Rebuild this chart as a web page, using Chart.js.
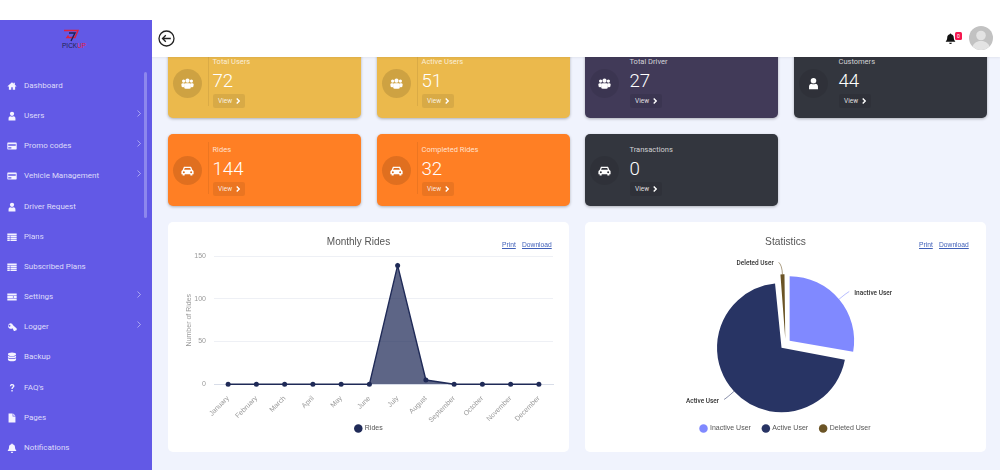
<!DOCTYPE html>
<html><head><meta charset="utf-8">
<script src="https://cdn.jsdelivr.net/npm/chart.js@4"></script>
<style>
html,body{margin:0;padding:0;width:1000px;height:470px;overflow:hidden;background:#f0f3fd;font-family:Roboto,sans-serif}
.abs{position:absolute}
#top{left:0;top:0;width:1000px;height:56.5px;background:#fff;box-shadow:0 1px 2px rgba(0,0,0,.06);z-index:3}
#side{left:0;top:20px;width:152px;height:450px;background:#6259e6;z-index:4}
#bar{left:144px;top:52px;width:3px;height:146px;border-radius:2px;background:rgba(255,255,255,.28)}
.nav{position:absolute;left:24px;font-size:8px;line-height:12px;color:#dedcfa;white-space:nowrap}
.ico{position:absolute;left:7px;width:10px;height:10px;fill:#f4f3ff}
.chev{position:absolute;left:137px;width:4px;height:7px;fill:none;stroke:rgba(255,255,255,.45);stroke-width:1}
.card{position:absolute;width:193px;border-radius:5px;box-shadow:0 1px 3px rgba(0,0,0,.28);overflow:hidden;height:72px}
.circ{position:absolute;left:4.5px;top:29px;width:29px;height:29px;border-radius:50%;background:rgba(0,0,0,.12)}
.circ svg{position:absolute;left:8px;top:8px;width:13px;height:13px;fill:#fff}
.div{position:absolute;left:39.5px;top:8px;width:1px;height:52px;background:rgba(0,0,0,.07)}
.ct{position:absolute;left:44.5px;top:10px;font-size:7.5px;line-height:12px;color:rgba(255,255,255,.78);white-space:nowrap}
.cn{position:absolute;left:44.5px;top:22px;font-size:18.7px;line-height:26px;color:#fff;font-weight:300}
.cb{position:absolute;left:44.5px;top:48px;width:32px;height:14px;border-radius:2px;background:rgba(0,0,0,.08);color:rgba(255,255,255,.85);font-size:6.5px;font-weight:400;line-height:14px;text-indent:5.5px}
.cb svg{position:absolute;left:23px;top:4px;width:4px;height:6px;fill:none;stroke:#fff;stroke-width:1.4}
.panel{position:absolute;top:222px;width:401px;height:230px;background:#fff;border-radius:5px}
.panel canvas{position:absolute;left:0;top:0}
.lk{position:absolute;top:18px;font:6.7px "Liberation Sans",sans-serif;line-height:9px;color:#3f5fb8;text-decoration:underline}
</style></head><body>
<svg width="0" height="0" style="position:absolute"><defs>
<symbol id="users" viewBox="0 0 16 16"><circle cx="3.2" cy="5" r="2"/><circle cx="12.8" cy="5" r="2"/><circle cx="8" cy="4.5" r="2.6"/><rect x="0.6" y="7.6" width="4" height="5" rx="1.4"/><rect x="11.4" y="7.6" width="4" height="5" rx="1.4"/><rect x="4" y="7.6" width="8" height="7" rx="1.8"/></symbol>
<symbol id="user" viewBox="0 0 16 16"><circle cx="8" cy="4.5" r="3.4"/><path d="M2.5 15v-3.2C2.5 9.5 4 8.5 5.5 8.3c1.5 1 3.5 1 5 0 1.500.2 3 1.200 3 3.500V15z"/></symbol>
<symbol id="car" viewBox="0 0 16 16"><path fill-rule="evenodd" d="M3.6 3.500h8.800L14 7.300c1 .4 1.500 1 1.500 2v3.200h-1.500v1.500h-2.500v-1.500h-7v1.500H2v-1.500H.5V9.300c0-1 .5-1.600 1.500-2zM4.700 5 3.800 7.200h8.400L11.300 5zM3.500 9a1.200 1.200 0 1 0 0 2.400 1.200 1.200 0 0 0 0-2.400zm9 0a1.200 1.200 0 1 0 0 2.400 1.200 1.200 0 0 0 0-2.400z"/></symbol>
<symbol id="home" viewBox="0 0 16 16"><path d="M8 2 .8 8.300l1 1L3 8.300V14h3.800v-4h2.400v4H13V8.300l1.200 1 1-1L12.500 6V2.800h-2v1.400z"/></symbol>
<symbol id="cardi" viewBox="0 0 16 16"><path fill-rule="evenodd" d="M1.500 2.500h13c.6 0 1 .4 1 1v9c0 .6-.4 1-1 1h-13c-.6 0-1-.4-1-1v-9c0-.6.4-1 1-1zM2 5v2.500h12V5zm0 5v2h5v-2z"/></symbol>
<symbol id="list" viewBox="0 0 16 16"><path d="M.5 2.500h15v2.500H.5zM.5 6h4v2.200h-4zm5 0h10v2.200h-10zM.5 9.200h4v2.200h-4zm5 0h10v2.200h-10zM.5 12.400h4v1.800h-4zm5 0h10v1.800h-10z"/></symbol>
<symbol id="sett" viewBox="0 0 16 16"><path d="M.5 2.500h15v3h-15zM.5 6.500h9v3h-9zm10 0h5v3h-5zM.5 10.500h15v3h-15z"/></symbol>
<symbol id="key" viewBox="0 0 16 16"><path fill-rule="evenodd" d="M5.500 2a4.500 4.500 0 0 1 4.200 3l5.800 5.500V13h-2v1.500h-2.500L9 10a4.500 4.500 0 1 1-3.500-8zM4 4.500a1.500 1.500 0 1 0 0 3 1.500 1.500 0 0 0 0-3z"/></symbol>
<symbol id="db" viewBox="0 0 16 16"><ellipse cx="8" cy="3.500" rx="6.500" ry="2.800"/><path d="M1.500 5.500c1.500 2.500 11.500 2.500 13 0v2.700c-1.500 2.500-11.500 2.500-13 0zM1.500 9.500c1.500 2.500 11.500 2.500 13 0v3c-1 3.200-12 3.200-13 0z"/></symbol>
<symbol id="file" viewBox="0 0 16 16"><path d="M2.500.8h6.500v4.700h4.500V15.200h-11zM10 .8l3.500 3.700H10z"/></symbol>
<symbol id="bell" viewBox="0 0 16 16"><path d="M8 .8c.7 0 1.100.5 1.100 1.100 2.500.5 3.700 2.500 3.700 5 0 3 1.200 4 2 5v1H1.200v-1c.8-1 2-2 2-5 0-2.500 1.200-4.500 3.700-5C6.900 1.300 7.300.8 8 .8zM6 14h4a2 2 0 0 1-4 0z"/></symbol>
<symbol id="faq" viewBox="0 0 16 16"><path d="M4.500 5c.3-2.300 1.800-3.300 3.700-3.300 2.200 0 3.700 1.300 3.700 3.100 0 2.600-2.800 2.600-2.800 4.900H7c0-3.100 2.500-3.200 2.500-4.800 0-.8-.6-1.200-1.400-1.200-.8 0-1.400.5-1.500 1.500zM7 11h2.100v2.500H7z"/></symbol>
</defs></svg>

<div id="top" class="abs">
<svg class="abs" style="left:158px;top:30px" width="17" height="17" viewBox="0 0 17 17" fill="none" stroke="#222" stroke-width="1.300"><circle cx="8.500" cy="8.500" r="7.500"/><path d="M12.800 8.500H4.500M7.800 5.200 4.500 8.500l3.300 3.300"/></svg>
<svg class="abs" style="left:945px;top:33px;fill:#111" width="11" height="11"><use href="#bell"/></svg>
<div class="abs" style="left:955px;top:32px;width:7px;height:8px;border-radius:1.500px;background:#f5184f;color:#fff;font-size:5px;line-height:8px;text-align:center">0</div>
<svg class="abs" style="left:969px;top:26px" width="24" height="24" viewBox="0 0 24 24"><circle cx="12" cy="12" r="12" fill="#c2c2c2"/><circle cx="12" cy="9.500" r="4.800" fill="#e3e3e3"/><path d="M3.500 20.500c1.500-4 5-5.500 8.500-5.500s7 1.500 8.500 5.500A12 12 0 0 1 3.500 20.500z" fill="#e3e3e3"/></svg>
</div>

<div id="side" class="abs">
<svg class="abs" style="left:58px;top:8px" width="30" height="26" viewBox="0 0 30 26"><path d="M6 2.500h14l-3 7h-8l1.500-2" fill="none" stroke="#e0203c" stroke-width="1.400"/><path d="M11 5h6l-4 8" fill="none" stroke="#1d2350" stroke-width="1.400"/><text x="4" y="19.500" font-family="Liberation Sans" font-size="6.500" fill="#1d2350">PICK<tspan fill="#e0203c">UP</tspan></text></svg>
<div id="bar" class="abs"></div>
<div id="navwrap"></div>
</div>

<div id="cards"></div>

<div class="panel" style="left:168px"><canvas id="c1" width="401" height="230" style="width:401px;height:230px"></canvas>
<div class="lk" style="left:334px">Print</div><div class="lk" style="left:354px">Download</div></div>
<div class="panel" style="left:585px"><canvas id="c2" width="401" height="230" style="width:401px;height:230px"></canvas>
<div class="lk" style="left:334px">Print</div><div class="lk" style="left:354px">Download</div></div>

<script>
const months = ["January","February","March","April","May","June","July","August","September","October","November","December"];
const rides = [0,0,0,0,0,0,139,5,0,0,0,0];
const yTicks = [0,50,100,150];
const pieLabels = ["Inactive User","Active User","Deleted User"];
const pieValues = [20,51,1];
const pieColors = ["#8089ff","#283464","#6b5426"];
const navLabels = ["Dashboard","Users","Promo codes","Vehicle Management","Driver Request","Plans","Subscribed Plans","Settings","Logger","Backup","FAQ's","Pages","Notifications"];
const navIcons = ["home","user","cardi","cardi","user","list","list","sett","key","db","faq","file","bell"];
const navChevrons = [1,2,3,7,8];
const navY = [86,116,146,176,207,237,267,297,327,357,388,418,448];
const cardTitles = ["Total Users","Active Users","Total Driver","Customers","Rides","Completed Rides","Transactions"];
const cardValues = ["72","51","27","44","144","32","0"];
const cardIcons = ["users","users","users","user","car","car","car"];
const cardColors = ["#ebb94c","#ebb94c","#413a58","#33363e","#ff7f24","#ff7f24","#33363e"];
const cardX = [168,377,585,794,168,377,585];
const cardY = [46,46,46,46,134,134,134];

const nw=document.getElementById('navwrap');
navLabels.forEach((t,i)=>{
  const y=navY[i]-20;
  nw.insertAdjacentHTML('beforeend',`<svg class="ico" style="top:${y-5}px"><use href="#${navIcons[i]}"/></svg><div class="nav" style="top:${y-6}px">${t}</div>`+
   (navChevrons.includes(i)?`<svg class="chev" viewBox="0 0 4 7" style="top:${y-6.500}px"><path d="M.5.5 3.500 3.500.5 6.500"/></svg>`:''));
});
const cw=document.getElementById('cards');
cardTitles.forEach((t,i)=>{
  const dark=i===2||i===3||i===6;
  cw.insertAdjacentHTML('beforeend',`<div class="card" style="left:${cardX[i]}px;top:${cardY[i]}px;background:${cardColors[i]}">
  <div class="circ" style="top:${i<4?22.5:22}px;${dark?'background:rgba(0,0,0,.08)':''}"><svg><use href="#${cardIcons[i]}"/></svg></div>
  ${dark?'':'<div class="div"></div>'}
  <div class="ct">${t}</div><div class="cn">${cardValues[i]}</div>
  <div class="cb">View<svg viewBox="0 0 4 6"><path d="M.7.5 3.200 3 .7 5.500"/></svg></div></div>`);
});

const font='"Liberation Sans",sans-serif';
Chart.defaults.font.family=font;
Chart.defaults.animation=false;

const shiftTitle={id:'shiftTitle',afterLayout(ch){const b=ch.titleBlock;b.left-=10.5;b.right-=10.5;}};
new Chart(document.getElementById('c1'),{
 type:'line',
 data:{labels:months,datasets:[{label:'Rides',data:rides,clip:false,borderColor:'#1f2a57',backgroundColor:'rgba(31,42,87,.72)',borderWidth:1.400,tension:0,fill:'origin',pointRadius:2.500,pointBackgroundColor:'#1f2a57',pointBorderColor:'#1f2a57',pointBorderWidth:0}]},
 plugins:[shiftTitle],
 options:{responsive:false,devicePixelRatio:1,
  layout:{padding:{left:17,right:16,top:0,bottom:10}},
  plugins:{
   title:{display:true,text:'Monthly Rides',color:'#555',font:{size:10,weight:'normal'},padding:{top:14,bottom:8}},
   legend:{position:'bottom',labels:{usePointStyle:true,pointStyle:'circle',boxWidth:6,boxHeight:6,color:'#555',font:{size:7},padding:8}},
   tooltip:{enabled:false}},
  scales:{
   x:{offset:true,grid:{display:false},border:{color:'#d8dde8'},
      ticks:{color:'#999',font:{size:7},maxRotation:45,minRotation:45,padding:2,autoSkip:false},
      afterFit(s){s.height=32.700;s._computeLabelArea=()=>null;}},
   y:{min:0,max:150,grid:{color:'#eef0f5',drawTicks:false},border:{display:false},
      afterBuildTicks(s){s.ticks=yTicks.map(v=>({value:v}))},
      ticks:{color:'#999',font:{size:7},padding:8},
      title:{display:true,text:'Number of Rides',color:'#999',font:{size:7},padding:0},
      afterFit(s){s.width=29}}
  }}
});

const PIE_R=64.5;
const fixRadius={id:'fixRadius',afterDatasetsUpdate(ch){
  ch.getDatasetMeta(0).data.forEach(a=>{
    const o=(a.options.offset||0)/4, sweep=a.endAngle-a.startAngle;
    a.outerRadius=PIE_R-o*(1-Math.sin(Math.min(Math.PI,sweep)));
  });}};
const sliceLabels={id:'sliceLabels',afterDatasetsDraw(ch){
  const c=ch.ctx;
  ch.getDatasetMeta(0).data.forEach((a,i)=>{
    const shift=(a.options.offset||0)/4;
    const mid=(a.startAngle+a.endAngle)/2, dx=Math.cos(mid), dy=Math.sin(mid);
    const R=PIE_R+shift;
    const ex=a.x+dx*R, ey=a.y+dy*R;
    const side=dx>=0?1:-1;
    const nudge=Math.abs(dx)<.2?-3.200:side*1;
    const lx=ex+dx*12+nudge, ly=ey+dy*12;
    c.save();c.strokeStyle=pieColors[i];c.globalAlpha=.8;c.lineWidth=.7;c.beginPath();c.moveTo(ex,ey);
    c.quadraticCurveTo(ex+dx*9,ey+dy*9,lx,ly);c.stroke();c.globalAlpha=1;
    c.fillStyle='#333';c.font='500 6.500px Roboto';c.textBaseline='middle';
    const left=dx>=0&&Math.abs(dx)>=.2;
    c.textAlign=left?'left':'right';
    c.fillText(pieLabels[i],lx+(left?5:-5),ly+1.500);
    c.restore();
  });
}};
new Chart(document.getElementById('c2'),{
 type:'pie',
 data:{labels:pieLabels,datasets:[{data:pieValues,backgroundColor:pieColors,borderWidth:0,radius:PIE_R,offset:21.600,hoverOffset:0}]},
 plugins:[fixRadius,sliceLabels],
 options:{responsive:false,devicePixelRatio:1,events:[],
  layout:{padding:{left:0,right:0,top:0,bottom:10}},
  plugins:{
   title:{display:true,text:'Statistics',color:'#555',font:{size:10.200,weight:'normal'},padding:{top:14,bottom:27}},
   legend:{position:'bottom',labels:{usePointStyle:true,pointStyle:'circle',boxWidth:6,boxHeight:6,color:'#555',font:{size:7},padding:12}},
   tooltip:{enabled:false}}
 }
});
</script>
</body></html>
